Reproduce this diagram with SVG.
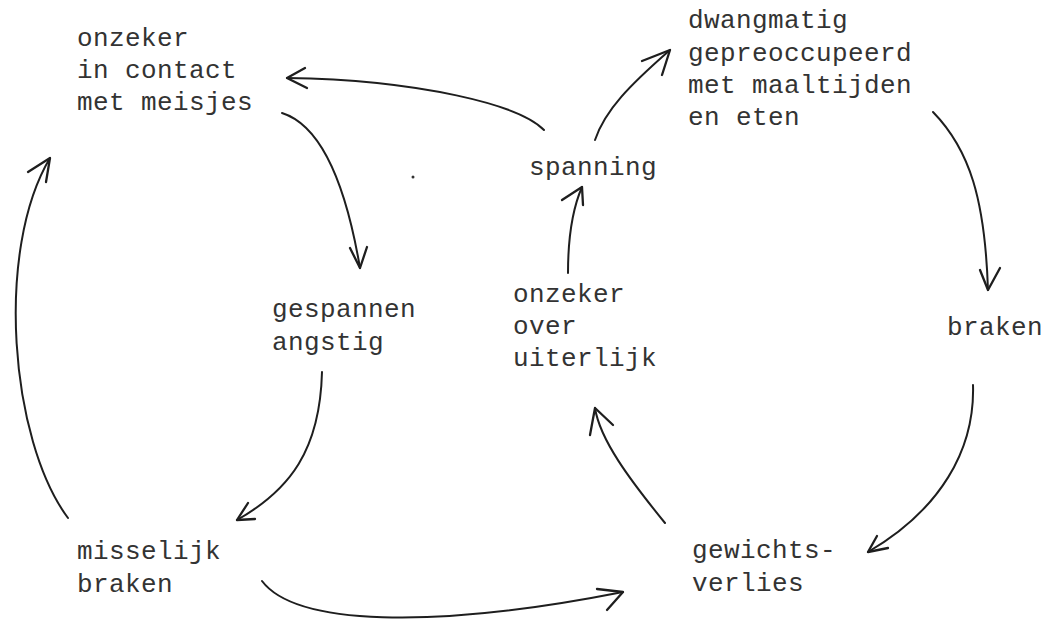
<svg xmlns="http://www.w3.org/2000/svg" width="1041" height="621" viewBox="0 0 1041 621">
<style>
text{font-family:"Liberation Mono","Courier New",monospace;font-size:26px;letter-spacing:0.4px;fill:#333}
.c{fill:none;stroke:#1e1e1e;stroke-width:2;stroke-linecap:round;stroke-linejoin:round}
.h{fill:none;stroke:#1e1e1e;stroke-width:2.3;stroke-linecap:round;stroke-linejoin:round}
</style>
<rect width="1041" height="621" fill="#fff"/>
<g id="n-onzeker-contact"><text x="77" y="46">onzeker</text><text x="77" y="78">in contact</text><text x="77" y="110">met meisjes</text></g>
<g id="n-dwangmatig"><text x="688" y="28">dwangmatig</text><text x="688" y="61">gepreoccupeerd</text><text x="688" y="93">met maaltijden</text><text x="688" y="125">en eten</text></g>
<g id="n-spanning"><text x="529" y="175">spanning</text></g>
<g id="n-gespannen"><text x="272" y="317">gespannen</text><text x="272" y="350">angstig</text></g>
<g id="n-onzeker-uiterlijk"><text x="513" y="302">onzeker</text><text x="513" y="334">over</text><text x="513" y="366">uiterlijk</text></g>
<g id="n-braken"><text x="947" y="335">braken</text></g>
<g id="n-misselijk"><text x="77" y="559">misselijk</text><text x="77" y="592">braken</text></g>
<g id="n-gewichtsverlies"><text x="692" y="558">gewichts-</text><text x="692" y="591">verlies</text></g>
<g id="connectors">
<path class="c" d="M544,130 C520,105 420,80 287,78"/><path class="h" d="M305,68 L287,78 L307,88"/>
<path class="c" d="M282,113 C320,125 345,180 360,268"/><path class="h" d="M350,248 L360,268 L367,247"/>
<path class="c" d="M68,518 C10,440 -5,250 50,158"/><path class="h" d="M28,172 L50,158 L46,182"/>
<path class="c" d="M595,140 C605,110 630,85 670,50"/><path class="h" d="M642,61 L670,50 L662,75"/>
<path class="c" d="M568,273 C568,240 572,210 582,187"/><path class="h" d="M562,200 L582,187 L583,205"/>
<path class="c" d="M933,112 C970,150 985,200 988,290"/><path class="h" d="M980,270 L988,290 L1000,268"/>
<path class="c" d="M322,372 C320,450 290,490 237,520"/><path class="h" d="M248,503 L237,520 L255,519"/>
<path class="c" d="M973,385 C975,450 940,510 868,552"/><path class="h" d="M877,536 L868,552 L888,548"/>
<path class="c" d="M665,523 C630,480 600,440 595,408"/><path class="h" d="M590,435 L595,408 L613,425"/>
<path class="c" d="M262,581 C295,625 430,630 623,592"/><path class="h" d="M597,589 L623,592 L607,610"/>
</g>
<circle cx="413" cy="177" r="1.5" fill="#333"/>
</svg>
